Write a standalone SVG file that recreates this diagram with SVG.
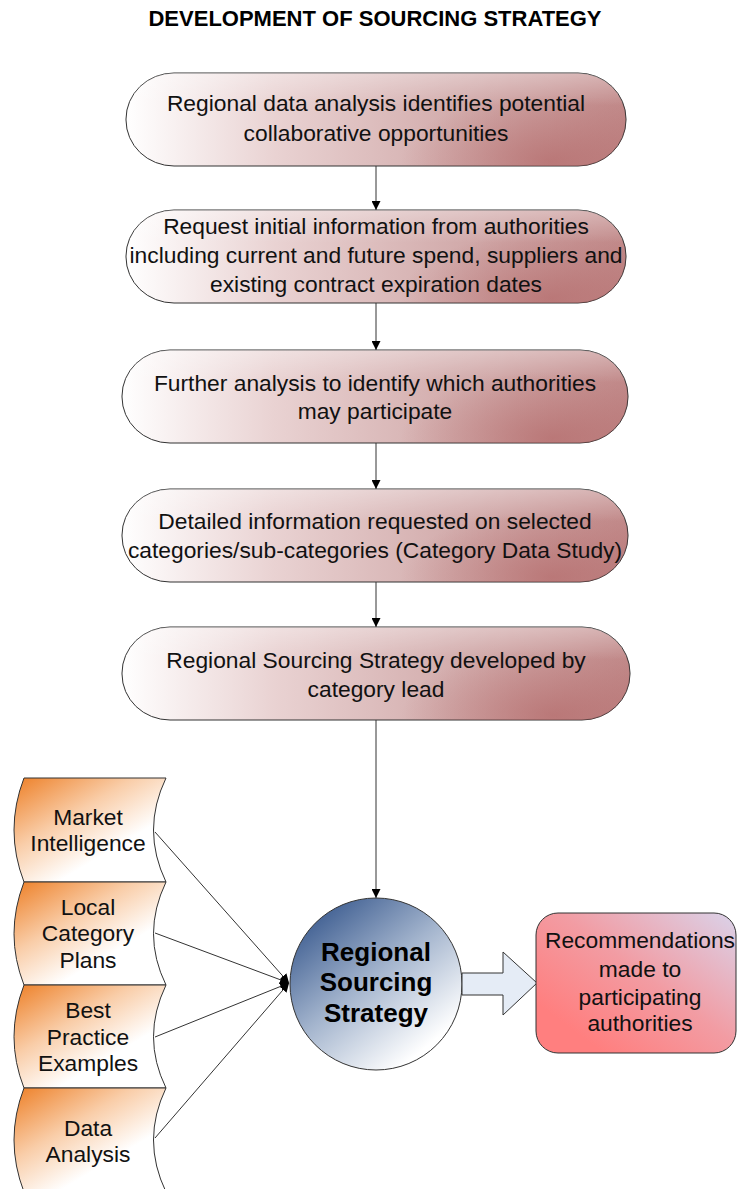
<svg xmlns="http://www.w3.org/2000/svg" width="737" height="1189" viewBox="0 0 737 1189">
  <defs>
    <linearGradient id="stepFill" x1="0" y1="0" x2="1" y2="0">
      <stop offset="0" stop-color="#ffffff"/>
      <stop offset="0.3" stop-color="#e9d2d2"/>
      <stop offset="0.65" stop-color="#d3adad"/>
      <stop offset="1" stop-color="#c18989"/>
    </linearGradient>
    <radialGradient id="stepShade" cx="0.85" cy="0.95" r="0.3" gradientTransform="translate(0.85 0.95) scale(1 2.4) translate(-0.85 -0.95)">
      <stop offset="0" stop-color="#b06262" stop-opacity="0.6"/>
      <stop offset="1" stop-color="#b06262" stop-opacity="0"/>
    </radialGradient>
    <linearGradient id="stepSheen" x1="0" y1="0" x2="0" y2="1">
      <stop offset="0" stop-color="#ffffff" stop-opacity="0.35"/>
      <stop offset="0.35" stop-color="#ffffff" stop-opacity="0"/>
    </linearGradient>
    <linearGradient id="tapeFill" x1="0" y1="0.05" x2="0.7" y2="0.85">
      <stop offset="0" stop-color="#ee8530"/>
      <stop offset="0.45" stop-color="#f9cda8"/>
      <stop offset="0.85" stop-color="#ffffff"/>
    </linearGradient>
    <linearGradient id="hubFill" x1="0.1" y1="0.1" x2="0.75" y2="0.9">
      <stop offset="0" stop-color="#3c5c90"/>
      <stop offset="0.5" stop-color="#a3b4cd"/>
      <stop offset="1" stop-color="#ffffff"/>
    </linearGradient>
    <linearGradient id="recFill" x1="0.15" y1="0.8" x2="1" y2="0">
      <stop offset="0" stop-color="#ff7f7f"/>
      <stop offset="0.45" stop-color="#f29ca3"/>
      <stop offset="1" stop-color="#dad3ea"/>
    </linearGradient>
    <marker id="arrow" viewBox="0 0 10 10" refX="10" refY="5" markerWidth="9" markerHeight="9" markerUnits="userSpaceOnUse" orient="auto">
      <path d="M0,0 L10,5 L0,10 Z" fill="#000"/>
    </marker>
    <style>
      .step { fill: url(#stepFill); stroke: #333; stroke-width: 1; }
      .shade { fill: url(#stepShade); stroke: none; }
      .sheen { fill: url(#stepSheen); stroke: none; }
      .tape { fill: url(#tapeFill); stroke: #333; stroke-width: 1; }
      .label { font-family: "Liberation Sans", Arial, sans-serif; font-size: 22.8px; fill: #111; text-anchor: middle; }
      .hubLabel { font-family: "Liberation Sans", Arial, sans-serif; font-size: 26px; font-weight: bold; fill: #000; text-anchor: middle; }
      .title { font-family: "Liberation Sans", Arial, sans-serif; font-size: 22px; font-weight: bold; fill: #000; text-anchor: middle; }
      .conn { stroke: #333; stroke-width: 1; fill: none; marker-end: url(#arrow); }
    </style>
  </defs>

  <rect width="737" height="1189" fill="#ffffff"/>

  <text class="title" x="375" y="26">DEVELOPMENT OF SOURCING STRATEGY</text>

  <!-- connectors -->
  <g id="connectors">
    <line class="conn" x1="376" y1="166" x2="376" y2="210"/>
    <line class="conn" x1="376" y1="303" x2="376" y2="350"/>
    <line class="conn" x1="376" y1="443" x2="376" y2="489"/>
    <line class="conn" x1="376" y1="582" x2="376" y2="627"/>
    <line class="conn" x1="376" y1="720" x2="376" y2="898"/>
    <line class="conn" x1="155" y1="832" x2="289" y2="983"/>
    <line class="conn" x1="155" y1="933" x2="289" y2="983"/>
    <line class="conn" x1="155" y1="1037" x2="289" y2="983"/>
    <line class="conn" x1="155" y1="1138" x2="289" y2="983"/>
  </g>

  <!-- process steps -->
  <g id="step1">
    <rect class="step" x="126" y="73" width="500" height="93" rx="48" ry="46"/>
    <rect class="shade" x="126" y="73" width="500" height="93" rx="48" ry="46"/>
    <rect class="sheen" x="126" y="73" width="500" height="93" rx="48" ry="46"/>
    <text class="label" x="376" y="111">Regional data analysis identifies potential</text>
    <text class="label" x="376" y="141">collaborative opportunities</text>
  </g>
  <g id="step2">
    <rect class="step" x="126" y="210" width="500" height="93" rx="48" ry="46"/>
    <rect class="shade" x="126" y="210" width="500" height="93" rx="48" ry="46"/>
    <rect class="sheen" x="126" y="210" width="500" height="93" rx="48" ry="46"/>
    <text class="label" x="376" y="234">Request initial information from authorities</text>
    <text class="label" x="376" y="263">including current and future spend, suppliers and</text>
    <text class="label" x="376" y="292">existing contract expiration dates</text>
  </g>
  <g id="step3">
    <rect class="step" x="122" y="350" width="506" height="93" rx="48" ry="46"/>
    <rect class="shade" x="122" y="350" width="506" height="93" rx="48" ry="46"/>
    <rect class="sheen" x="122" y="350" width="506" height="93" rx="48" ry="46"/>
    <text class="label" x="375" y="391">Further analysis to identify which authorities</text>
    <text class="label" x="375" y="419">may participate</text>
  </g>
  <g id="step4">
    <rect class="step" x="122" y="489" width="506" height="93" rx="48" ry="46"/>
    <rect class="shade" x="122" y="489" width="506" height="93" rx="48" ry="46"/>
    <rect class="sheen" x="122" y="489" width="506" height="93" rx="48" ry="46"/>
    <text class="label" x="375" y="529">Detailed information requested on selected</text>
    <text class="label" x="375" y="558">categories/sub-categories (Category Data Study)</text>
  </g>
  <g id="step5">
    <rect class="step" x="122" y="627" width="508" height="93" rx="48" ry="46"/>
    <rect class="shade" x="122" y="627" width="508" height="93" rx="48" ry="46"/>
    <rect class="sheen" x="122" y="627" width="508" height="93" rx="48" ry="46"/>
    <text class="label" x="376" y="668">Regional Sourcing Strategy developed by</text>
    <text class="label" x="376" y="697">category lead</text>
  </g>

  <!-- input sources -->
  <g id="market-intelligence">
    <path class="tape" d="M24,778 L166,778 Q141,830 166,882 L24,882 Q4,830 24,778 Z"/>
    <text class="label" x="88" y="825">Market</text>
    <text class="label" x="88" y="851">Intelligence</text>
  </g>
  <g id="local-category-plans">
    <path class="tape" d="M24,882 L166,882 Q141,934 166,985 L24,985 Q4,934 24,882 Z"/>
    <text class="label" x="88" y="915">Local</text>
    <text class="label" x="88" y="941">Category</text>
    <text class="label" x="88" y="968">Plans</text>
  </g>
  <g id="best-practice-examples">
    <path class="tape" d="M24,985 L166,985 Q141,1037 166,1088 L24,1088 Q4,1037 24,985 Z"/>
    <text class="label" x="88" y="1018">Best</text>
    <text class="label" x="88" y="1045">Practice</text>
    <text class="label" x="88" y="1071">Examples</text>
  </g>
  <g id="data-analysis">
    <path class="tape" d="M24,1088 L166,1088 Q141,1140 166,1192 L24,1192 Q4,1140 24,1088 Z"/>
    <text class="label" x="88" y="1136">Data</text>
    <text class="label" x="88" y="1162">Analysis</text>
  </g>

  <!-- central strategy -->
  <g id="regional-sourcing-strategy">
    <circle cx="376" cy="984" r="86" fill="url(#hubFill)" stroke="#333" stroke-width="1"/>
    <text class="hubLabel" x="376" y="961">Regional</text>
    <text class="hubLabel" x="376" y="991">Sourcing</text>
    <text class="hubLabel" x="376" y="1022">Strategy</text>
  </g>

  <!-- output arrow -->
  <g id="output-arrow">
    <polygon points="462,973 503,973 503,952 537,983 503,1015 503,995 462,995" fill="#e5ecf6" stroke="#333" stroke-width="1"/>
  </g>

  <g id="recommendations">
    <rect x="536" y="913" width="200" height="140" rx="22" ry="22" fill="url(#recFill)" stroke="#333" stroke-width="1"/>
    <text class="label" x="640" y="948">Recommendations</text>
    <text class="label" x="640" y="977">made to</text>
    <text class="label" x="640" y="1005">participating</text>
    <text class="label" x="640" y="1031">authorities</text>
  </g>
</svg>
